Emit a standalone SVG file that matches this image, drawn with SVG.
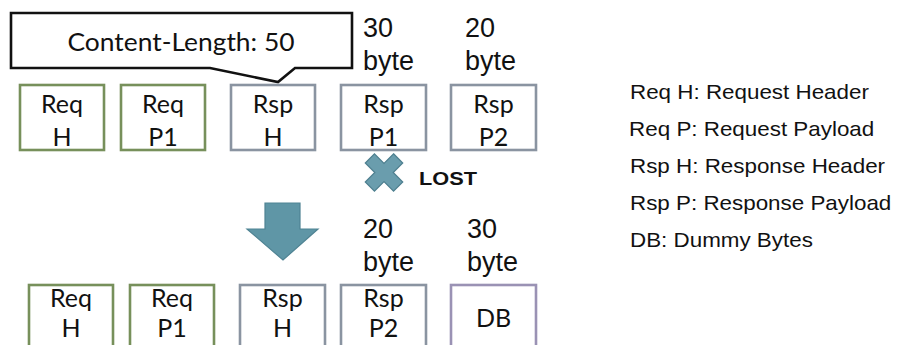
<svg xmlns="http://www.w3.org/2000/svg" width="898" height="345" viewBox="0 0 898 345">
  <style>
    .box { fill: #ffffff; stroke-width: 2.6; }
    .req { stroke: #77905b; }
    .rsp { stroke: #8a94a1; }
    .db { stroke: #9a92b4; }
    .lbl { font-family: Lato, "Open Sans", "Liberation Sans", sans-serif; font-size: 25px; fill: #111111; text-anchor: middle; }
    .size { font-family: "Liberation Sans", Arial, sans-serif; font-size: 27px; fill: #111111; }
    .legend { font-family: "Liberation Sans", Arial, sans-serif; font-size: 20px; fill: #111111; }
    .mark { fill: #6a9dad; stroke: #4f8090; stroke-width: 1.2; }
  </style>

  <!-- callout pointing at the response header -->
  <g id="callout">
    <path d="M11,13 H352 V68 H295 L278,82 L210,68 H11 Z" fill="#ffffff" stroke="#111111" stroke-width="2.6" stroke-linejoin="miter"/>
    <text class="lbl" x="181" y="51" font-size="27" textLength="227" lengthAdjust="spacingAndGlyphs">Content-Length: 50</text>
  </g>

  <!-- original stream -->
  <g id="top-req-h">
    <rect class="box req" x="20" y="85" width="84" height="65"/>
    <text class="lbl" x="62" y="113">Req</text>
    <text class="lbl" x="62" y="146">H</text>
  </g>
  <g id="top-req-p1">
    <rect class="box req" x="121" y="85" width="84" height="65"/>
    <text class="lbl" x="163" y="113">Req</text>
    <text class="lbl" x="163" y="146">P1</text>
  </g>
  <g id="top-rsp-h">
    <rect class="box rsp" x="231" y="85" width="84" height="65"/>
    <text class="lbl" x="273" y="113">Rsp</text>
    <text class="lbl" x="273" y="146">H</text>
  </g>
  <g id="top-rsp-p1">
    <rect class="box rsp" x="341" y="85" width="85" height="65"/>
    <text class="lbl" x="383.5" y="113">Rsp</text>
    <text class="lbl" x="383.5" y="146">P1</text>
    <text class="size" x="363" y="37">30</text>
    <text class="size" x="363" y="70">byte</text>
  </g>
  <g id="top-rsp-p2">
    <rect class="box rsp" x="451" y="85" width="85" height="65"/>
    <text class="lbl" x="493.5" y="113">Rsp</text>
    <text class="lbl" x="493.5" y="146">P2</text>
    <text class="size" x="465" y="37">20</text>
    <text class="size" x="465" y="70">byte</text>
  </g>

  <!-- lost marker -->
  <g id="lost">
    <polygon class="mark" transform="translate(384,172.5) rotate(45)"
      points="-6.5,-20 6.5,-20 6.5,-6.5 20,-6.5 20,6.5 6.5,6.5 6.5,20 -6.5,20 -6.5,6.5 -20,6.5 -20,-6.5 -6.5,-6.5"/>
    <text x="419" y="185" font-family="'Liberation Sans', Arial, sans-serif" font-weight="bold" font-size="19" fill="#111111" textLength="58" lengthAdjust="spacingAndGlyphs">LOST</text>
  </g>

  <!-- transition arrow -->
  <g id="connectors">
    <polygon points="265,203 300,203 300,229 318,229 283,260 247,229 265,229" fill="#5f96a6" stroke="#4f8393" stroke-width="1.2" stroke-linejoin="miter"/>
  </g>

  <!-- resulting stream -->
  <g id="bot-req-h">
    <rect class="box req" x="29" y="285" width="84" height="70"/>
    <text class="lbl" x="71" y="307">Req</text>
    <text class="lbl" x="71" y="337">H</text>
  </g>
  <g id="bot-req-p1">
    <rect class="box req" x="130" y="285" width="84" height="70"/>
    <text class="lbl" x="172" y="307">Req</text>
    <text class="lbl" x="172" y="337">P1</text>
  </g>
  <g id="bot-rsp-h">
    <rect class="box rsp" x="240" y="285" width="85" height="70"/>
    <text class="lbl" x="282.5" y="307">Rsp</text>
    <text class="lbl" x="282.5" y="337">H</text>
  </g>
  <g id="bot-rsp-p2">
    <rect class="box rsp" x="341" y="285" width="85" height="70"/>
    <text class="lbl" x="383.5" y="307">Rsp</text>
    <text class="lbl" x="383.5" y="337">P2</text>
    <text class="size" x="363" y="238">20</text>
    <text class="size" x="363" y="271">byte</text>
  </g>
  <g id="bot-db">
    <rect class="box db" x="451" y="285" width="85" height="70"/>
    <text class="lbl" x="493.5" y="327">DB</text>
    <text class="size" x="467" y="238">30</text>
    <text class="size" x="467" y="271">byte</text>
  </g>

  <!-- abbreviation legend -->
  <g id="legend" class="legend" transform="translate(630,0) scale(1.12,1)">
    <text x="0" y="99">Req H: Request Header</text>
    <text x="-0.8" y="136">Req P: Request Payload</text>
    <text x="0" y="173">Rsp H: Response Header</text>
    <text x="0" y="210">Rsp P: Response Payload</text>
    <text x="0" y="247">DB: Dummy Bytes</text>
  </g>
</svg>
